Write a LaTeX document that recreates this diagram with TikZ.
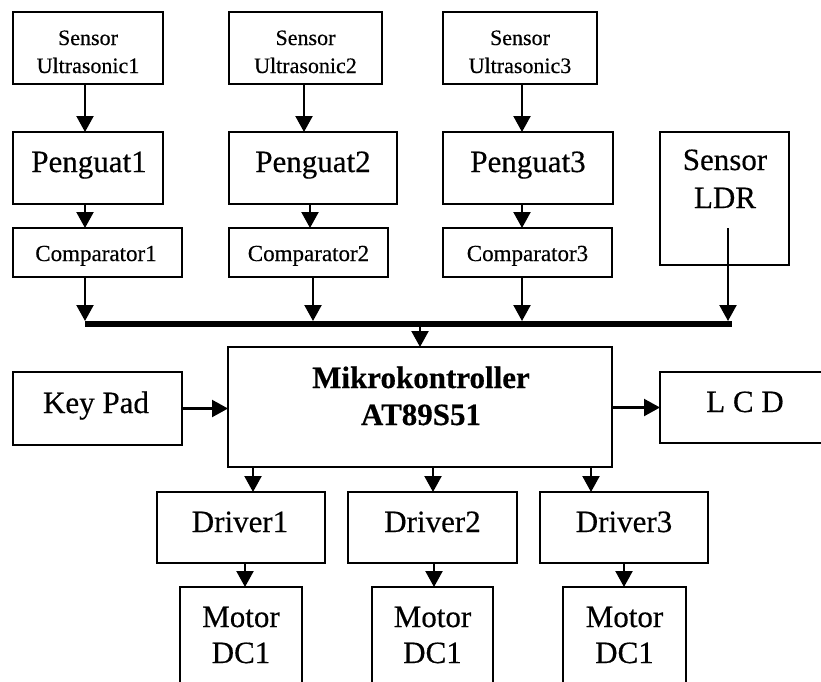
\documentclass[tikz,border=0pt]{standalone}
\usepackage{fontspec}
\setmainfont{Liberation Serif}[FakeBold=0.4]
\usetikzlibrary{arrows.meta}
\newcommand{\mybox}[5]{\node[box, minimum width={(#4-#2)*1pt}, minimum height={(#5-#3)*1pt}] (#1) at (#2,#3) {};}
\begin{document}
\begin{tikzpicture}[x=1pt,y=-1pt,
  box/.style={draw, line width=2.6pt, inner sep=0pt, outer sep=0pt, anchor=north west},
  arr/.style={line width=2.2pt, -{Triangle[width=17pt,length=16pt]}},
  small/.style={anchor=base, inner sep=0pt, font=\fontsize{22}{26}\selectfont},
  mid/.style={anchor=base, inner sep=0pt, font=\fontsize{23}{27}\selectfont},
  big/.style={anchor=base, inner sep=0pt, font=\fontsize{31}{36}\selectfont},
  bigb/.style={anchor=base, inner sep=0pt, font=\fontsize{31}{36}\selectfont\bfseries}]
\useasboundingbox (0,0) rectangle (821,681);
\clip (0,0) rectangle (821,681);
\fill[white] (0,0) rectangle (821,681);
% boxes
\mybox{s1}{13}{12}{163}{84}
\mybox{s2}{229}{12}{382}{84}
\mybox{s3}{443}{12}{597}{84}
\mybox{p1}{13}{132}{163}{204}
\mybox{p2}{229}{132}{397}{204}
\mybox{p3}{443}{132}{613}{204}
\mybox{c1}{13}{228}{182}{277}
\mybox{c2}{229}{228}{388}{277}
\mybox{c3}{443}{228}{612}{277}
\mybox{ldr}{660}{132}{789}{265}
\mybox{kp}{13}{372}{182}{445}
\mybox{mk}{228}{347}{612}{467}
\mybox{lcd}{660}{372}{840}{443}
\mybox{d1}{157}{492}{325}{563}
\mybox{d2}{348}{492}{517}{563}
\mybox{d3}{540}{492}{708}{563}
\mybox{m1}{180}{587}{302}{700}
\mybox{m2}{372}{587}{493}{700}
\mybox{m3}{563}{587}{686}{700}
% texts
\node[small] (ts1a) at (88,45) {Sensor};
\node[small] (ts1b) at (88,73) {Ultrasonic1};
\node[small] (ts2a) at (305.5,45) {Sensor};
\node[small] (ts2b) at (305.5,73) {Ultrasonic2};
\node[small] (ts3a) at (520,45) {Sensor};
\node[small] (ts3b) at (520,73) {Ultrasonic3};
\node[big] (tp1) at (89,172) {Penguat1};
\node[big] (tp2) at (313,172) {Penguat2};
\node[big] (tp3) at (528,172) {Penguat3};
\node[mid] (tc1) at (96,261) {Comparator1};
\node[mid] (tc2) at (308.5,261) {Comparator2};
\node[mid] (tc3) at (527.5,261) {Comparator3};
\node[big] (tldra) at (725,170) {Sensor};
\node[big] (tldrb) at (725,208) {LDR};
\node[big] (tkp) at (96,413) {Key Pad};
\node[bigb] (tmka) at (421,388) {Mikrokontroller};
\node[bigb] (tmkb) at (421,425) {AT89S51};
\node[big] (tlcd) at (745,412) {L C D};
\node[big] (td1) at (240,532) {Driver1};
\node[big] (td2) at (432.5,532) {Driver2};
\node[big] (td3) at (624,532) {Driver3};
\node[big] (tm1a) at (241,627) {Motor};
\node[big] (tm1b) at (241,663) {DC1};
\node[big] (tm2a) at (432.5,627) {Motor};
\node[big] (tm2b) at (432.5,663) {DC1};
\node[big] (tm3a) at (624.5,627) {Motor};
\node[big] (tm3b) at (624.5,663) {DC1};
% x positions
\coordinate (xa1) at (85,0);
\coordinate (xa2) at (304,0);
\coordinate (xa3) at (522,0);
\coordinate (xb2) at (310,0);
\coordinate (xc2) at (313,0);
\coordinate (xd1) at (253,0);
\coordinate (xd2) at (433,0);
\coordinate (xd3) at (591,0);
\coordinate (xm1) at (245,0);
\coordinate (xm2) at (434,0);
\coordinate (xm3) at (624,0);
\coordinate (busL) at (85,324);
\coordinate (busR) at (732,324);
\coordinate (busM) at (420,324);
\coordinate (ldrin) at (728,228);
% bus
\draw[line width=6pt] (busL) -- (busR);
% arrows
\draw[arr] (s1.south -| xa1) -- (p1.north -| xa1);
\draw[arr] (s2.south -| xa2) -- (p2.north -| xa2);
\draw[arr] (s3.south -| xa3) -- (p3.north -| xa3);
\draw[arr] (p1.south -| xa1) -- (c1.north -| xa1);
\draw[arr] (p2.south -| xb2) -- (c2.north -| xb2);
\draw[arr] (p3.south -| xa3) -- (c3.north -| xa3);
\draw[arr, shorten >=3pt] (c1.south -| xa1) -- (busL);
\draw[arr, shorten >=3pt] (c2.south -| xc2) -- (busL -| xc2);
\draw[arr, shorten >=3pt] (c3.south -| xa3) -- (busL -| xa3);
\draw[arr, shorten >=3pt] (ldrin) -- (ldrin |- busR);
\draw[arr] (busM) -- (mk.north -| busM);
\draw[arr] (kp.east) -- (kp.east -| mk.west);
\draw[arr] (lcd.west -| mk.east) -- (lcd.west);
\draw[arr] (mk.south -| xd1) -- (d1.north -| xd1);
\draw[arr] (mk.south -| xd2) -- (d2.north -| xd2);
\draw[arr] (mk.south -| xd3) -- (d3.north -| xd3);
\draw[arr] (d1.south -| xm1) -- (m1.north -| xm1);
\draw[arr] (d2.south -| xm2) -- (m2.north -| xm2);
\draw[arr] (d3.south -| xm3) -- (m3.north -| xm3);
\end{tikzpicture}
\end{document}
